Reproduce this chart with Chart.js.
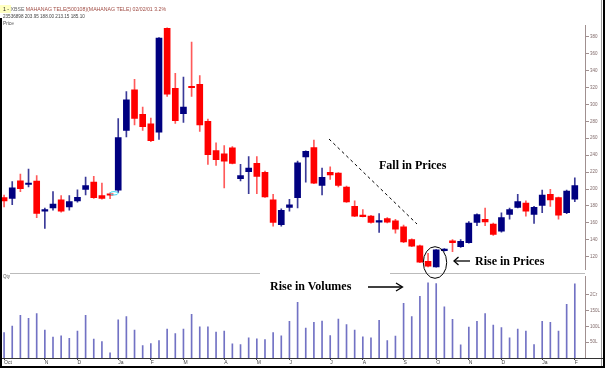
<!DOCTYPE html>
<html>
<head>
<meta charset="utf-8">
<script src="https://cdn.jsdelivr.net/npm/chart.js@4"></script>
<style>
html, body { margin: 0; padding: 0; background: #fff; }
#wrap { position: relative; width: 606px; height: 368px; overflow: hidden; background: #fff; font-family: Arial, "Liberation Sans", sans-serif; }
#priceBox { position: absolute; left: 0; top: 22px; width: 602px; height: 251px; }
#volBox { position: absolute; left: 0; top: 273px; width: 602px; height: 94px; }
.t { position: absolute; white-space: nowrap; line-height: 1; }
.note { position: absolute; white-space: nowrap; font-family: "Liberation Serif", "Times New Roman", serif; font-weight: bold; font-size: 12px; line-height: 12px; color: #000; }
svg { position: absolute; left: 0; top: 0; }
</style>
</head>
<body>
<div id="wrap">
  <div id="priceBox"><canvas id="priceChart" width="602" height="251"></canvas></div>
  <div id="volBox"><canvas id="volChart" width="602" height="94"></canvas></div>

  <svg width="606" height="368">
    <!-- frame -->
    <rect x="0" y="18" width="2" height="350" fill="#000"/>
    <line x1="601.5" y1="0" x2="601.5" y2="368" stroke="#999" stroke-width="1"/>
    <rect x="603" y="0" width="2" height="368" fill="#000"/>
    <rect x="0" y="366" width="605" height="2" fill="#000"/>
    <line x1="585" y1="358.5" x2="603" y2="358.5" stroke="#333" stroke-width="1"/>
    <!-- pane separator -->
    <line x1="10" y1="273.5" x2="260" y2="273.5" stroke="#bbb" stroke-width="1"/>
    <line x1="390" y1="273.5" x2="585" y2="273.5" stroke="#bbb" stroke-width="1"/>
    <!-- annotations -->
    <line x1="329" y1="139" x2="417" y2="224" stroke="#000" stroke-width="1" stroke-dasharray="3,3"/>
    <ellipse cx="435" cy="262.5" rx="11.7" ry="15.8" fill="none" stroke="#000" stroke-width="1"/>
    <ellipse cx="114" cy="193.3" rx="4" ry="1.7" fill="none" stroke="#40d8f0" stroke-width="1"/>
    <line x1="454" y1="261" x2="470" y2="261" stroke="#000" stroke-width="1.3"/>
    <polyline points="458.5,257 454,261 458.5,265" fill="none" stroke="#000" stroke-width="1.3"/>
    <line x1="368" y1="287" x2="402" y2="287" stroke="#000" stroke-width="1.3"/>
    <polyline points="396,283 402.5,287 396,291" fill="none" stroke="#000" stroke-width="1.3"/>
  </svg>

  <div class="t" style="left:0;top:5px;width:11px;height:8px;background:#ffffc0"></div>
  <div class="t" style="left:3px;top:7px;font-size:5.2px;color:#222">1 - <span style="color:#666">XBSE</span> <span style="color:#a04c44">MAHANAG TELE(500108)(MAHANAG TELE) 02/02/01 3.2%</span></div>
  <div class="t" style="left:3px;top:14.5px;font-size:4.6px;color:#444">23536898 203.95 188.00 213.15 185.10</div>
  <div class="t" style="left:3px;top:21.5px;font-size:4.8px;color:#555">Price</div>
  <div class="t" style="left:3px;top:274.5px;font-size:4.5px;color:#555">Qty</div>

  <div class="note" style="left:379px;top:159px">Fall in Prices</div>
  <div class="note" style="left:475px;top:254.5px">Rise in Prices</div>
  <div class="note" style="left:270px;top:280px">Rise in Volumes</div>
</div>

<script>
// weekly candles, Oct 1999 - Feb 2001
const opens  = [189.8, 189.0, 209.7, 205.3, 209.3, 173.9, 177.6, 187.1, 178.7, 186.0,
                199.4, 208.1, 192.1, 194.0, 198.6, 269.2, 317.3, 288.3, 276.9, 267.3,
                389.9, 318.9, 289.1, 321.0, 323.8, 279.9, 245.5, 241.7, 248.6, 212.3,
                220.4, 230.3, 219.6, 187.1, 157.7, 178.3, 189.8, 237.9, 249.0, 204.3,
                219.6, 218.8, 202.4, 179.5, 168.9, 168.0, 160.9, 165.0, 162.3, 155.4,
                140.2, 132.9, 114.6, 108.0, 127.2, 138.6, 131.8, 136.7, 160.4, 164.2,
                158.5, 150.1, 169.9, 178.3, 183.3, 169.9, 180.6, 193.6, 189.8, 171.9, 188.00];
const highs  = [192.9, 208.9, 217.7, 223.4, 215.8, 177.6, 197.0, 192.1, 192.1, 199.0,
                214.2, 215.0, 207.0, 195.5, 283.3, 315.0, 329.5, 296.7, 283.7, 379.0,
                390.5, 336.8, 332.2, 373.5, 334.1, 282.6, 254.7, 251.3, 250.1, 229.1,
                238.3, 238.3, 221.1, 193.6, 176.5, 187.9, 232.9, 245.0, 257.8, 224.6,
                226.1, 219.5, 203.5, 186.0, 175.7, 168.8, 171.1, 166.1, 164.2, 157.3,
                141.0, 133.6, 124.0, 128.5, 129.5, 140.1, 140.1, 161.5, 170.7, 177.6,
                159.7, 171.9, 177.6, 193.6, 186.0, 179.5, 198.6, 199.7, 190.5, 198.6, 213.15];
const lows   = [178.7, 181.4, 196.7, 202.4, 166.1, 153.5, 174.9, 172.6, 174.9, 184.5,
                192.9, 189.0, 187.9, 188.6, 195.9, 261.6, 275.7, 269.2, 255.9, 258.5,
                309.3, 277.6, 278.8, 309.3, 268.1, 229.1, 228.0, 201.2, 229.5, 209.6,
                194.4, 194.4, 190.0, 156.2, 156.2, 173.8, 177.6, 208.1, 206.2, 192.9,
                211.2, 202.4, 184.0, 167.3, 166.9, 159.7, 148.6, 160.0, 147.8, 136.7,
                131.8, 112.8, 108.0, 107.5, 126.5, 126.0, 131.0, 136.0, 156.6, 156.6,
                145.1, 149.0, 164.2, 177.6, 168.0, 159.3, 171.9, 179.5, 164.2, 170.7, 185.10];
const closes = [186.0, 201.3, 200.5, 206.5, 171.1, 175.1, 182.2, 173.8, 185.2, 190.2,
                203.9, 189.8, 189.0, 192.6, 260.8, 305.5, 283.3, 273.8, 257.0, 378.4,
                312.0, 280.7, 296.7, 319.7, 275.7, 240.6, 234.8, 232.9, 230.3, 215.8,
                224.6, 215.0, 190.6, 160.4, 174.9, 181.4, 231.0, 244.4, 207.0, 213.8,
                216.5, 204.3, 184.8, 168.0, 167.4, 160.4, 162.1, 160.8, 152.4, 137.5,
                132.5, 113.4, 108.9, 128.0, 128.6, 136.7, 138.3, 159.6, 169.9, 161.2,
                146.3, 166.1, 175.7, 185.2, 173.8, 178.3, 192.9, 187.1, 169.2, 197.5, 203.95];
// weekly volume, lakh shares
const volumes = [80.6, 101, 135.7, 125.5, 140.8, 88.7, 66.3, 70.4, 62.2, 85.7,
                 135.7, 60.2, 52.0, 16.3, 121.4, 131.6, 88.7, 39.8, 45.9, 55.1,
                 91.8, 77.5, 91.8, 138.7, 99, 99, 82.6, 85.7, 44.9, 42.8,
                 64.3, 61.2, 58.1, 80.6, 70.4, 116.3, 176.5, 94.9, 113.2, 117.3,
                 71.4, 123.4, 106.1, 88.7, 67.3, 64.3, 119.4, 55.1, 69.4, 173.4,
                 131.6, 195.9, 238.7, 236, 162.2, 122.4, 41.8, 97.9, 116.3, 140.8,
                 104.1, 96.9, 64.3, 91.8, 85.7, 42.8, 116.3, 113.2, 85.7, 170.4, 235.4];
const monthLabels = ['Oct', 'N', 'D', 'Ja', 'F', 'M', 'A', 'M', 'J', 'J', 'A', 'S', 'O', 'N', 'D', 'Ja', 'F'];
const monthWeeks  = [0, 5, 9, 14, 18, 22, 27, 31, 35, 40, 44, 49, 53, 57, 61, 66, 70];
const priceTicks  = [120, 140, 160, 180, 200, 220, 240, 260, 280, 300, 320, 340, 360, 380];
const volTicks    = [50, 100, 150, 200];
const volTickLabels = {50: '50L', 100: '100L', 150: '150L', 200: '2Cr'};

const UP = '#000080', DOWN = '#ff0000';
const idx = opens.map((_, i) => i);
const isUp = idx.map(i => closes[i] >= opens[i]);

const xRange = {type: 'linear', min: -0.5, max: 71.25, offset: false, grid: {offset: false}};

new Chart(document.getElementById('priceChart'), {
    type: 'bar',
    data: {
        datasets: [
            {
                label: 'body',
                data: idx.map(i => ({x: i, y: [opens[i], closes[i]]})),
                backgroundColor: isUp.map(u => u ? UP : DOWN),
                barThickness: 6,
                minBarLength: 1.4,
                grouped: false,
                order: 0
            },
            {
                label: 'wick',
                data: idx.map(i => ({x: i, y: [lows[i], highs[i]]})),
                backgroundColor: isUp.map(u => u ? '#3a3a98' : '#ff5a5a'),
                barThickness: 1,
                grouped: false,
                order: 1
            }
        ]
    },
    options: {
        responsive: false,
        animation: false,
        devicePixelRatio: 1,
        layout: {padding: 0},
        plugins: {legend: {display: false}, tooltip: {enabled: false}},
        scales: {
            x: Object.assign({}, xRange, {display: false}),
            y: {
                position: 'right',
                min: 105.1,
                max: 393,
                afterBuildTicks: s => { s.ticks = priceTicks.map(v => ({value: v})); },
                afterFit: s => { s.width = 17; },
                grid: {drawOnChartArea: false, tickLength: 4, color: '#a09090'},
                border: {color: '#a09090'},
                ticks: {font: {size: 4.5, family: 'Arial'}, color: '#806a6a', padding: 1}
            }
        }
    }
});

new Chart(document.getElementById('volChart'), {
    type: 'bar',
    data: {
        datasets: [{
            label: 'Qty',
            data: idx.map(i => ({x: i, y: volumes[i]})),
            backgroundColor: '#7272c4',
            barThickness: 1
        }]
    },
    options: {
        responsive: false,
        animation: false,
        devicePixelRatio: 1,
        layout: {padding: 0},
        plugins: {legend: {display: false}, tooltip: {enabled: false}},
        scales: {
            x: Object.assign({}, xRange, {
                position: 'bottom',
                afterBuildTicks: s => { s.ticks = monthWeeks.map(v => ({value: v})); },
                afterFit: s => { s.height = 9; },
                grid: {drawOnChartArea: false, tickLength: 2, color: '#444', offset: false},
                border: {color: '#333'},
                ticks: {
                    callback: (v, i) => monthLabels[i],
                    autoSkip: false, maxRotation: 0, minRotation: 0,
                    align: 'start', padding: 0,
                    font: {size: 5, family: 'Arial'}, color: '#444'
                }
            }),
            y: {
                position: 'right',
                min: 0,
                max: 258,
                afterBuildTicks: s => { s.ticks = volTicks.map(v => ({value: v})); },
                afterFit: s => { s.width = 17; },
                grid: {drawOnChartArea: false, tickLength: 4, color: '#a09090'},
                border: {color: '#a09090'},
                ticks: {
                    callback: v => volTickLabels[v],
                    font: {size: 4.5, family: 'Arial'}, color: '#806a6a', padding: 1
                }
            }
        }
    }
});
</script>
</body>
</html>
